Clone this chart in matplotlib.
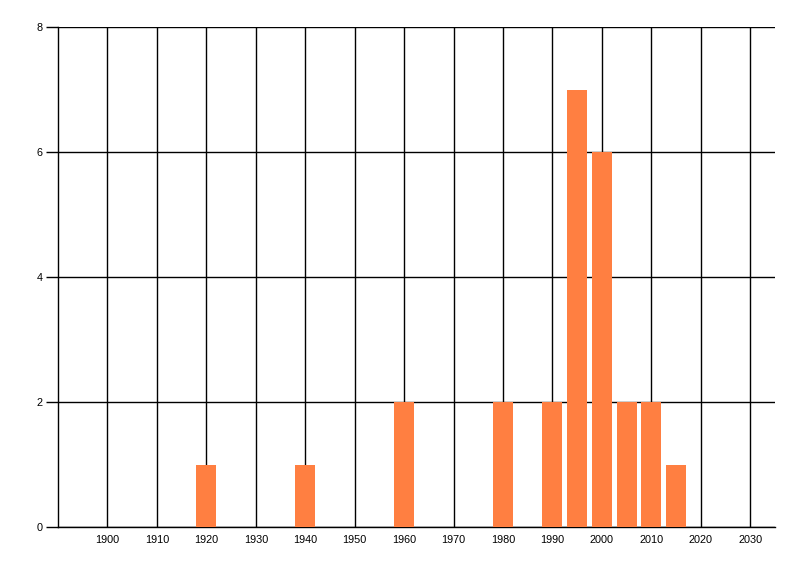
import matplotlib
matplotlib.use('Agg')
import matplotlib.pyplot as plt

plt.rcParams['font.family'] = ['Liberation Sans', 'DejaVu Sans']

# Counts per 5-year bucket
years = [1920, 1940, 1960, 1980, 1990, 1995, 2000, 2005, 2010, 2015]
counts = [1, 1, 2, 2, 2, 7, 6, 2, 2, 1]
x_ticks = list(range(1900, 2031, 10))
y_ticks = [0, 2, 4, 6, 8]

fig = plt.figure(figsize=(8, 5.76), dpi=100)
ax = fig.add_axes([58 / 800, 1 - 527 / 576, 717 / 800, 500 / 576])

ax.bar(years, counts, width=4.05, color='#FF7F41', zorder=3)

ax.set_xlim(1890, 2035)
ax.set_ylim(0, 8)
ax.set_xticks(x_ticks)
ax.set_yticks(y_ticks)
ax.grid(True, color='black', linewidth=1.0, zorder=1)
ax.set_axisbelow(True)

for side in ['top', 'right']:
    ax.spines[side].set_visible(False)
ax.spines['left'].set_linewidth(1.0)
ax.spines['bottom'].set_linewidth(1.0)

ax.tick_params(axis='x', length=0, pad=6, labelsize=7.8)
ax.tick_params(axis='y', length=9, width=1.0, pad=2, labelsize=7.8)

plt.savefig('out.png', dpi=100)
